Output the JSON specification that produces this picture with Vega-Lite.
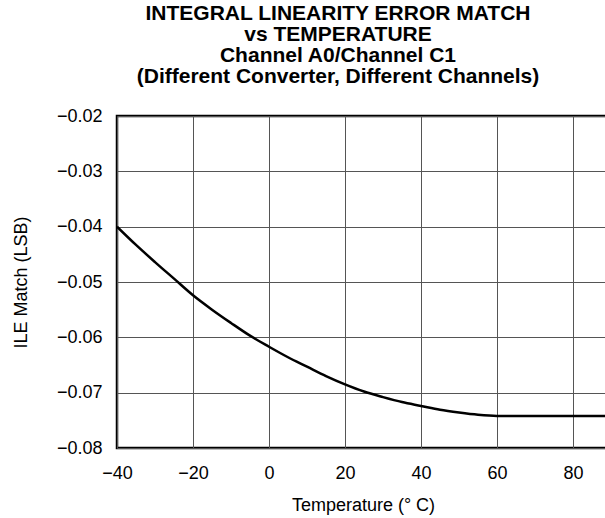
{
  "$schema": "https://vega.github.io/schema/vega-lite/v6.json",
  "autosize": {"type": "none"},
  "padding": {"left": 117, "top": 116, "right": 0, "bottom": 70},
  "width": 532,
  "height": 332,
  "background": "white",
  "title": {
    "text": ["INTEGRAL LINEARITY ERROR MATCH", "vs TEMPERATURE", "Channel A0/Channel C1", "(Different Converter, Different Channels)"],
    "anchor": "middle",
    "frame": "group",
    "dx": -45,
    "offset": 20,
    "font": "Liberation Sans",
    "fontSize": 21,
    "fontWeight": "bold",
    "lineHeight": 21,
    "color": "black"
  },
  "data": {
    "values": [
      {"temperature": -40, "ile": -0.0400},
      {"temperature": -35, "ile": -0.0433},
      {"temperature": -30, "ile": -0.0464},
      {"temperature": -25, "ile": -0.0494},
      {"temperature": -20, "ile": -0.0524},
      {"temperature": -15, "ile": -0.0550},
      {"temperature": -10, "ile": -0.0574},
      {"temperature": -5, "ile": -0.0597},
      {"temperature": 0, "ile": -0.0617},
      {"temperature": 5, "ile": -0.0636},
      {"temperature": 10, "ile": -0.0653},
      {"temperature": 15, "ile": -0.0670},
      {"temperature": 20, "ile": -0.0685},
      {"temperature": 25, "ile": -0.0698},
      {"temperature": 30, "ile": -0.0708},
      {"temperature": 35, "ile": -0.0717},
      {"temperature": 40, "ile": -0.0724},
      {"temperature": 45, "ile": -0.0731},
      {"temperature": 50, "ile": -0.0736},
      {"temperature": 55, "ile": -0.0740},
      {"temperature": 60, "ile": -0.0742},
      {"temperature": 70, "ile": -0.0742},
      {"temperature": 80, "ile": -0.0742},
      {"temperature": 90, "ile": -0.0742}
    ]
  },
  "mark": {"type": "line", "color": "black", "strokeWidth": 2.5, "interpolate": "monotone", "clip": true},
  "encoding": {
    "x": {
      "field": "temperature",
      "type": "quantitative",
      "scale": {"domain": [-40, 100], "nice": false, "zero": false},
      "axis": {
        "title": "Temperature (° C)",
        "values": [-40, -20, 0, 20, 40, 60, 80],
        "format": "d",
        "labelFlush": false,
        "titleX": 246
      }
    },
    "y": {
      "field": "ile",
      "type": "quantitative",
      "scale": {"domain": [-0.08, -0.02], "nice": false, "zero": false},
      "axis": {
        "title": "ILE Match (LSB)",
        "values": [-0.08, -0.07, -0.06, -0.05, -0.04, -0.03, -0.02],
        "format": ".2f",
        "labelFlush": false,
        "titlePadding": 26
      }
    }
  },
  "config": {
    "view": {"stroke": "black", "strokeWidth": 2.5},
    "axis": {
      "domain": false,
      "ticks": false,
      "grid": true,
      "gridColor": "#555",
      "gridWidth": 1,
      "gridOpacity": 1,
      "labelFont": "Liberation Sans",
      "labelFontSize": 18,
      "labelColor": "black",
      "titleFont": "Liberation Sans",
      "titleFontSize": 18,
      "titleFontWeight": "normal",
      "titleColor": "black",
      "labelPadding": 15
    },
    "axisX": {"labelPadding": 16, "titlePadding": 14}
  }
}
